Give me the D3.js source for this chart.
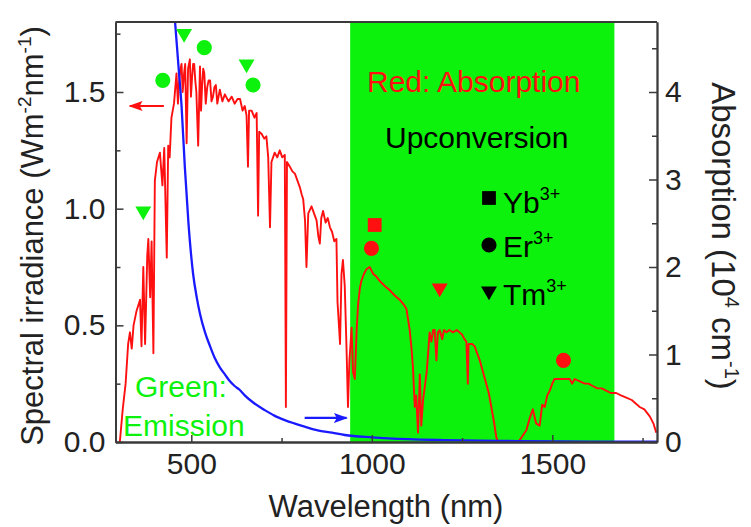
<!DOCTYPE html>
<html>
<head>
<meta charset="utf-8">
<script src="https://cdn.jsdelivr.net/npm/d3@7"></script>
<style>
  body { margin: 0; background: #fff; }
  svg text { font-family: "Liberation Sans", Arial, sans-serif; }
</style>
</head>
<body>
<div id="container"></div>
<script>
// AM1.5 spectral irradiance (red)
const solarWl = [302,310,318,325,330,335,340,348,358,362,367,372,378,381,386,390,395,399,405,413,420,425,432,436,440,445,452,459,463,466,470,473,476,480,483,487,491,496,499,502,505,508,511,514,519,524,527,530,533,536,540,544,548,552,556,560,564,568,572,579,586,593,603,612,620,628,635,642,648,653,657,660,667,675,681,685,688,695,702,708,713,718,722,731,738,745,752,759,762,765,773,780,787,794,801,806,810,815,819,824,833,840,847,852,856,860,865,872,878,884,890,896,902,905,907,912,916,920,925,930,934,938,944,948,953,958,962,967,971,978,985,994,1004,1012,1022,1035,1050,1062,1077,1088,1096,1100,1105,1110,1114,1119,1123,1128,1133,1137,1142,1147,1152,1156,1160,1165,1170,1174,1179,1183,1188,1195,1200,1207,1215,1225,1235,1243,1250,1257,1262,1266,1268,1271,1278,1285,1292,1299,1308,1317,1324,1331,1338,1345,1350,1405,1415,1428,1437,1446,1455,1465,1472,1479,1486,1493,1500,1506,1520,1534,1548,1555,1562,1576,1590,1600,1612,1625,1637,1649,1662,1677,1690,1705,1720,1735,1742,1755,1770,1780,1788];
const solarIrr = [0.00,0.14,0.25,0.42,0.47,0.40,0.50,0.56,0.61,0.41,0.75,0.42,0.80,0.87,0.62,0.86,0.38,1.12,1.20,1.24,1.10,1.26,0.79,1.27,1.22,1.39,1.45,1.58,1.45,1.54,1.60,1.62,1.50,1.58,1.62,1.28,1.60,1.64,1.48,1.56,1.62,1.62,1.55,1.50,1.27,1.61,1.42,1.53,1.60,1.58,1.45,1.52,1.55,1.55,1.46,1.48,1.52,1.53,1.45,1.51,1.46,1.49,1.46,1.48,1.45,1.47,1.47,1.42,1.44,1.40,1.18,1.42,1.42,1.39,1.41,0.97,1.33,1.32,1.30,1.31,1.22,0.92,1.20,1.24,1.22,1.25,1.22,1.23,0.15,1.20,1.18,1.16,1.15,1.12,1.09,1.06,1.04,0.95,0.75,0.98,1.01,0.98,0.95,0.88,0.85,0.96,0.99,0.94,0.96,0.92,0.90,0.86,0.87,0.60,0.55,0.42,0.72,0.78,0.67,0.40,0.15,0.35,0.49,0.30,0.27,0.48,0.59,0.66,0.69,0.72,0.74,0.75,0.72,0.71,0.69,0.67,0.65,0.63,0.61,0.59,0.57,0.53,0.48,0.40,0.32,0.15,0.20,0.04,0.29,0.07,0.18,0.24,0.30,0.38,0.47,0.43,0.48,0.48,0.35,0.47,0.48,0.44,0.48,0.47,0.48,0.47,0.48,0.47,0.46,0.44,0.43,0.25,0.42,0.42,0.42,0.41,0.38,0.35,0.30,0.25,0.21,0.15,0.09,0.02,0.00,0.00,0.02,0.05,0.10,0.14,0.08,0.07,0.16,0.15,0.20,0.22,0.25,0.27,0.27,0.27,0.27,0.25,0.27,0.26,0.25,0.25,0.24,0.23,0.23,0.22,0.21,0.21,0.20,0.19,0.18,0.16,0.15,0.14,0.11,0.08,0.04];

// blue emission-like decay curve
const blueWl = [455,459,466,473,482,492,505,515,524,538,552,565,579,593,607,620,633,648,675,703,730,759,785,814,850,890,925,1000,1100,1200,1400,1600,1790];
const blueVal = [1.80,1.72,1.58,1.44,1.18,0.94,0.72,0.62,0.55,0.47,0.41,0.36,0.32,0.29,0.26,0.24,0.225,0.20,0.165,0.137,0.113,0.094,0.08,0.066,0.05,0.04,0.03,0.02,0.012,0.008,0.004,0.002,0.001];

// green emission markers and red absorption markers
const emissionWl = [367,421,480,536,653,671];
const emissionVal = [0.99,1.55,1.75,1.69,1.62,1.53];
const emissionIon = ["Tm","Er","Tm","Er","Tm","Er"];
const absorptionWl = [1008,999,1188,1531];
const absorptionVal = [0.93,0.83,0.66,0.35];
const absorptionIon = ["Yb","Er","Tm","Er"];

// upconversion window (nm)
const upconvBand = [940,1672];

const xTicks = [500,1000,1500];
const xMinor = [750,1250,1750];
const yLeftTicks = [0,0.5,1.0,1.5];
const yRightTicks = [0,1,2,3,4];

const w = 751, h = 527;
const mLeft = 115.5, mRight = 657, mTop = 22, mBottom = 442;

const red = "#ff1010", green = "rgb(12,242,12)", blue = "#1a1aff", axisCol = "#3a3a3a";

const x = d3.scaleLinear().domain([290,1790]).range([mLeft,mRight]);
const y = d3.scaleLinear().domain([0,1.8]).range([mBottom,mTop]);
const y2 = d3.scaleLinear().domain([0,4.8]).range([mBottom,mTop]);

const svg = d3.select("#container").append("svg")
  .attr("width", w).attr("height", h);

const defs = svg.append("defs");
defs.append("clipPath").attr("id","plot")
  .append("rect").attr("x",mLeft).attr("y",mTop)
  .attr("width",mRight-mLeft).attr("height",mBottom-mTop);

// green band
svg.append("rect")
  .attr("x", x(upconvBand[0])).attr("y", mTop)
  .attr("width", x(upconvBand[1]) - x(upconvBand[0]))
  .attr("height", mBottom - mTop)
  .attr("fill", green);

const plot = svg.append("g").attr("clip-path","url(#plot)");

const solar = solarWl.map((d,i) => [d, solarIrr[i]]);
const decay = blueWl.map((d,i) => [d, blueVal[i]]);

const line = d3.line().x(d => x(d[0])).y(d => y(d[1]));

plot.append("path").datum(solar)
  .attr("d", line).attr("fill","none")
  .attr("stroke", red).attr("stroke-width",1.9).attr("stroke-linejoin","round");

plot.append("path").datum(decay)
  .attr("d", line.curve(d3.curveMonotoneX)).attr("fill","none")
  .attr("stroke", blue).attr("stroke-width",2.3);

// markers
const shape = {Yb: d3.symbolSquare, Er: d3.symbolCircle, Tm: d3.symbolTriangle};
const size = {Yb: 190, Er: 180, Tm: 110};
function drawMarkers(wls, vals, ions, col) {
  svg.append("g").selectAll("path")
    .data(wls.map((d,i) => ({wl:d, v:vals[i], ion:ions[i]})))
    .enter().append("path")
    .attr("d", d => d3.symbol().type(shape[d.ion]).size(size[d.ion])())
    .attr("transform", d => "translate(" + x(d.wl) + "," + y(d.v) + ")" + (d.ion == "Tm" ? " rotate(180)" : ""))
    .attr("fill", col);
}
drawMarkers(emissionWl, emissionVal, emissionIon, green);
drawMarkers(absorptionWl, absorptionVal, absorptionIon, red);

// axes
const axes = svg.append("g").attr("class","axes");
function style(g) {
  g.select(".domain").attr("stroke", axisCol).attr("stroke-width",1.8);
  g.selectAll(".tick line").attr("stroke", axisCol).attr("stroke-width",1.5);
  g.selectAll("text").attr("fill","#222").style("font-size","30px")
    .style("font-family",'"Liberation Sans", Arial, sans-serif');
}

axes.append("g").attr("transform","translate(0," + mBottom + ")")
  .call(d3.axisBottom(x).tickValues(xTicks).tickSize(-7).tickSizeOuter(0).tickPadding(11).tickFormat(d3.format("d")))
  .call(style);
axes.append("g").attr("transform","translate(0," + mBottom + ")")
  .call(d3.axisBottom(x).tickValues(xMinor).tickSize(-4).tickSizeOuter(0).tickFormat(""))
  .call(style);

axes.append("g").attr("transform","translate(" + mLeft + ",0)")
  .call(d3.axisLeft(y).tickValues(yLeftTicks).tickSize(-8).tickSizeOuter(0).tickPadding(10).tickFormat(d3.format(".1f")))
  .call(style);
axes.append("g").attr("transform","translate(" + mLeft + ",0)")
  .call(d3.axisLeft(y).tickValues(d3.range(0.25,1.8,0.5)).tickSize(-5).tickSizeOuter(0).tickFormat(""))
  .call(style);

axes.append("g").attr("transform","translate(" + mRight + ",0)")
  .call(d3.axisRight(y2).tickValues(yRightTicks).tickSize(-8).tickSizeOuter(0).tickPadding(8).tickFormat(d3.format("d")))
  .call(style);
axes.append("g").attr("transform","translate(" + mRight + ",0)")
  .call(d3.axisRight(y2).tickValues(d3.range(0.5,4.8,1)).tickSize(-5).tickSizeOuter(0).tickFormat(""))
  .call(style);

axes.append("line")
  .attr("x1",mLeft).attr("x2",mRight).attr("y1",mTop).attr("y2",mTop)
  .attr("stroke",axisCol).attr("stroke-width",1.8);

// arrows
[["redHead", red], ["blueHead", blue]].forEach(function(m){
  defs.append("marker").attr("id", m[0])
    .attr("viewBox","0 0 10 10").attr("refX",9).attr("refY",5)
    .attr("markerWidth",14).attr("markerHeight",10).attr("markerUnits","userSpaceOnUse")
    .attr("preserveAspectRatio","none")
    .attr("orient","auto")
    .append("path").attr("d","M0,0 L10,5 L0,10 L2,5 z").attr("fill", m[1]);
});
svg.append("line")
  .attr("x1", x(424)).attr("x2", x(330)).attr("y1", y(1.44)).attr("y2", y(1.44))
  .attr("stroke", red).attr("stroke-width",2.2).attr("marker-end","url(#redHead)");
svg.append("line")
  .attr("x1", x(814)).attr("x2", x(930)).attr("y1", y(0.103)).attr("y2", y(0.103))
  .attr("stroke", blue).attr("stroke-width",2.2).attr("marker-end","url(#blueHead)");

// annotation text
svg.append("text").attr("x",367).attr("y",92).attr("fill",red)
  .style("font-size","30px").text("Red: Absorption");
svg.append("text").attr("x",385).attr("y",148).attr("fill","#000")
  .style("font-size","30px").text("Upconversion");
svg.append("text").attr("x",135).attr("y",397).attr("fill",green)
  .style("font-size","30px").text("Green:");
svg.append("text").attr("x",123).attr("y",436).attr("fill",green)
  .style("font-size","30px").text("Emission");

// legend
const legend = [["Yb",198,213],["Er",245,257],["Tm",291,305]];
legend.forEach(function(l){
  svg.append("path")
    .attr("d", d3.symbol().type(shape[l[0]]).size(size[l[0]])())
    .attr("transform","translate(489," + l[1] + ")" + (l[0] == "Tm" ? " rotate(180)" : ""))
    .attr("fill","#000");
  const t = svg.append("text").attr("x",503).attr("y",l[2]).attr("fill","#000").style("font-size","30px");
  t.append("tspan").text(l[0]);
  t.append("tspan").attr("dy",-13).style("font-size","18px").text("3+");
});

// axis titles
svg.append("text").attr("x",386).attr("y",517).attr("text-anchor","middle")
  .attr("fill","#222").style("font-size","31px").text("Wavelength (nm)");

const lt = svg.append("text").attr("transform","translate(43,236) rotate(-90)")
  .attr("text-anchor","middle").attr("fill","#222").style("font-size","31px");
lt.append("tspan").text("Spectral irradiance (Wm");
lt.append("tspan").attr("dy",-12).style("font-size","19px").text("-2");
lt.append("tspan").attr("dy",12).text("nm");
lt.append("tspan").attr("dy",-12).style("font-size","19px").text("-1");
lt.append("tspan").attr("dy",12).text(")");

const rt = svg.append("text").attr("transform","translate(712,236) rotate(90)")
  .attr("text-anchor","middle").attr("fill","#222").style("font-size","33px");
rt.append("tspan").text("Absorption (10");
rt.append("tspan").attr("dy",-13).style("font-size","20px").text("4");
rt.append("tspan").attr("dy",13).text(" cm");
rt.append("tspan").attr("dy",-13).style("font-size","20px").text("-1");
rt.append("tspan").attr("dy",13).text(")");
</script>
</body>
</html>
